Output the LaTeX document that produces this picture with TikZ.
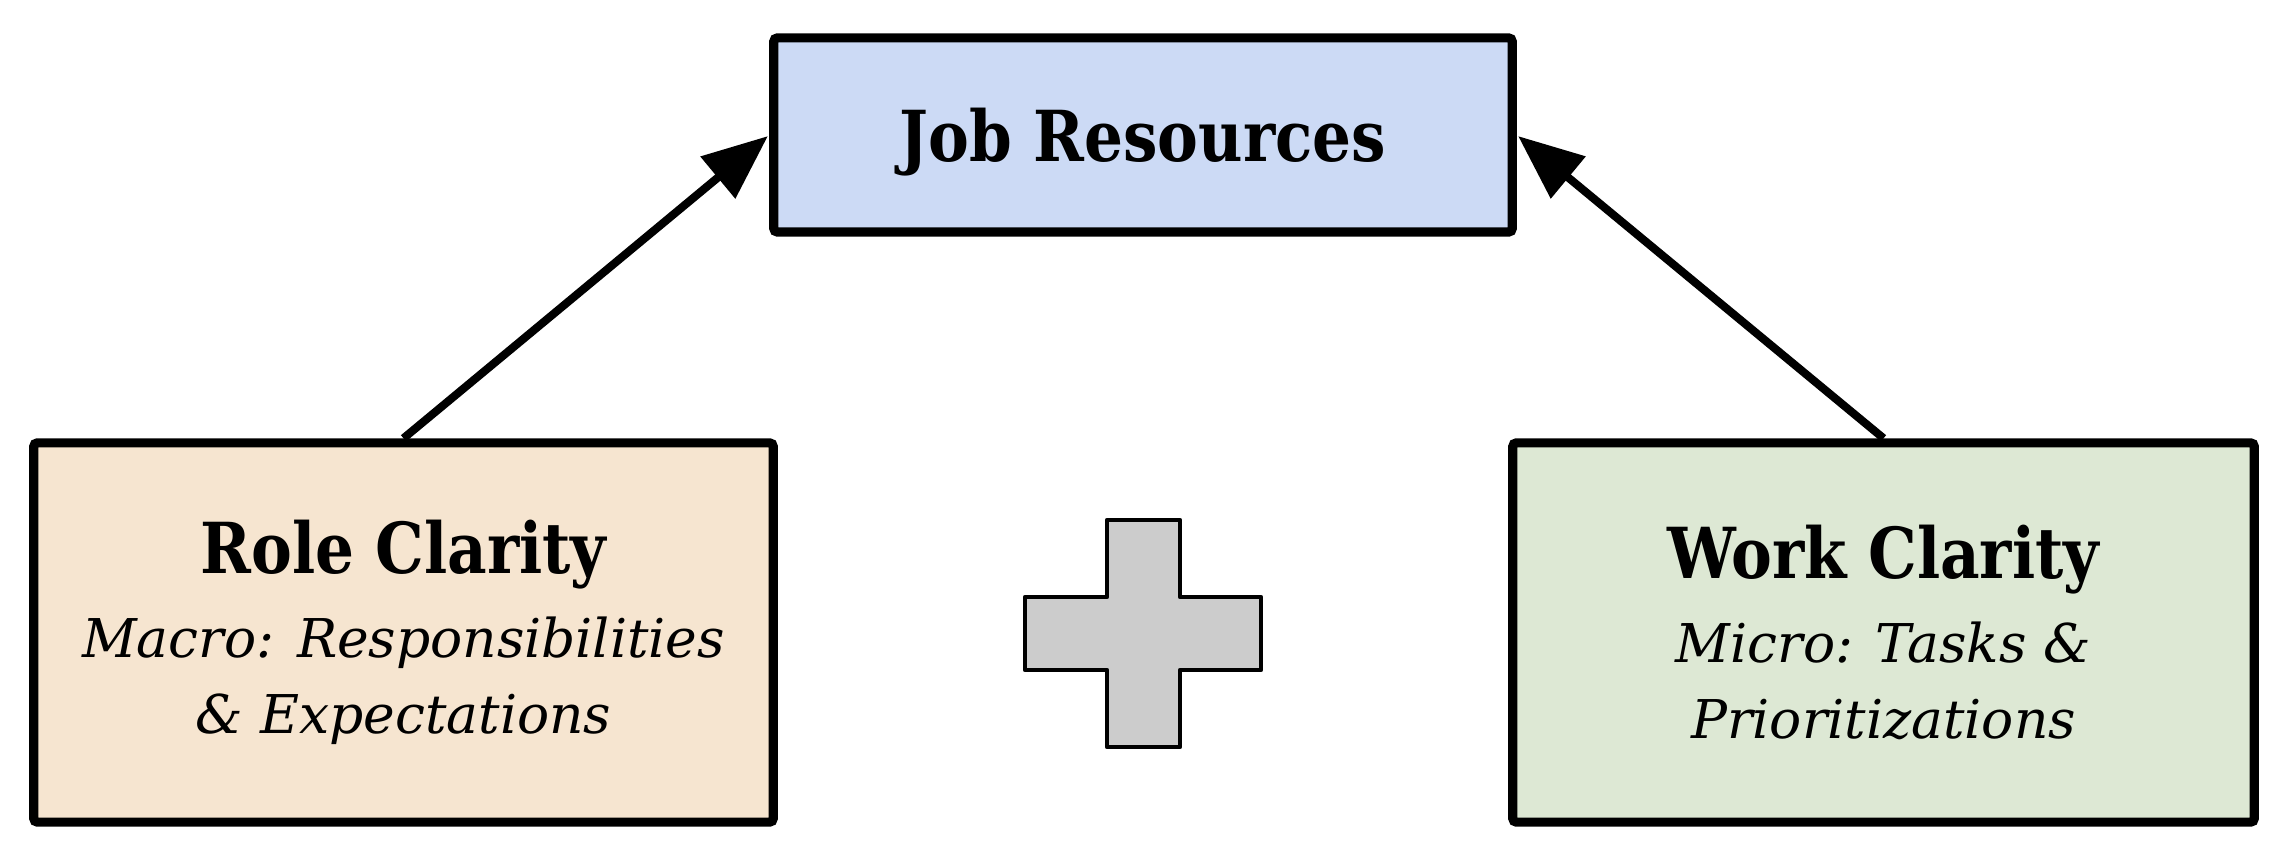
\documentclass[tikz,border=0pt]{standalone}
\usepackage{fontspec}
\setmainfont{DejaVu Serif}
\usetikzlibrary{arrows.meta}
\definecolor{topfill}{RGB}{204,218,245}
\definecolor{leftfill}{RGB}{246,229,208}
\definecolor{rightfill}{RGB}{221,232,212}
\definecolor{plusfill}{RGB}{204,204,204}
\newcommand{\ttl}[1]{{\fontsize{20}{24}\selectfont\bfseries\upshape\scalebox{0.87}[1]{#1}}}
\tikzset{
  box/.style={draw=black, line width=2.6pt, rounded corners=1pt, inner sep=0pt, align=center, text=black},
  subfont/.style={font=\fontsize{15.2}{21.6}\selectfont\itshape},
  link/.style={line width=2.3pt, -{Triangle[length=18.5pt,width=15pt]}, shorten >=0.5pt},
}
\begin{document}
\begin{tikzpicture}[x=0.01cm,y=-0.01cm]
\useasboundingbox (0,0) rectangle (2286,862);
\node[box, fill=topfill, minimum width=7.38cm, minimum height=1.94cm, text height=15pt, text depth=0pt] (top) at (1143,135) {\ttl{Job Resources}};
\node[box, fill=leftfill, minimum width=7.39cm, minimum height=3.79cm, subfont] (left) at (403.5,632.5)
  {\ttl{Role Clarity}\\[2.4pt]
   Macro: Responsibilities\\
   \& Expectations};
\node[box, fill=rightfill, minimum width=7.41cm, minimum height=3.79cm, subfont] (right) at (1883.5,632.5)
  {\ttl{Work Clarity}\\[2.4pt]
   Micro: Tasks \&\\
   Prioritizations};
\draw[line width=1.3pt, fill=plusfill, line join=round]
  (1107,520) -- (1180,520) -- (1180,597) -- (1261,597) -- (1261,670) -- (1180,670)
  -- (1180,747) -- (1107,747) -- (1107,670) -- (1025,670) -- (1025,597) -- (1107,597) -- cycle;
\draw[link] (left.north) -- (top.west);
\draw[link] (right.north) -- (top.east);
\end{tikzpicture}
\end{document}
